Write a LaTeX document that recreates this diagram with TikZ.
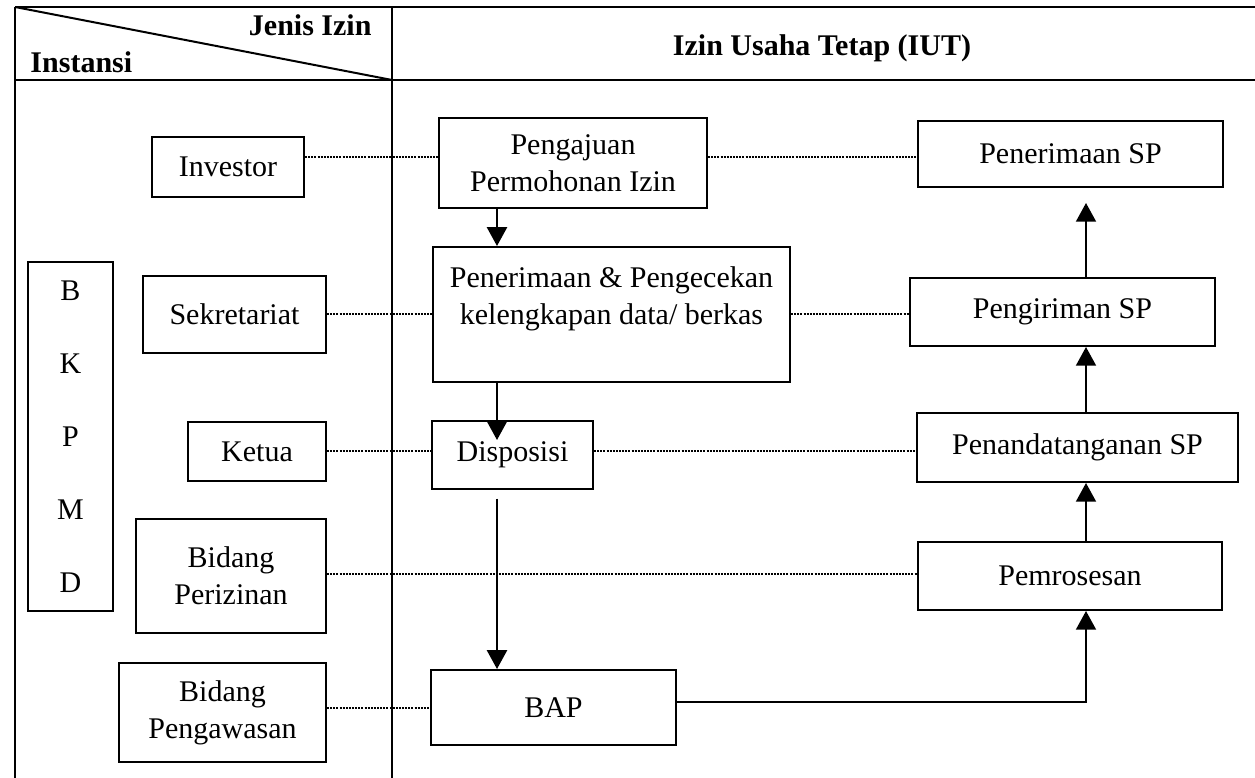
\documentclass[tikz,border=0pt]{standalone}
\usepackage{fontspec}
\setmainfont{Liberation Serif}
\usetikzlibrary{arrows.meta}
\newcommand\mybox[6]{\node[bx, minimum width={(#4-#2)*0.4pt}, minimum height={(#5-#3)*0.4pt}] (#1) at ({(#2+#4)/2},{(#3+#5)/2}) {#6};}
\begin{document}
\begin{tikzpicture}[x=0.4pt,y=-0.4pt,
 tbl/.style={line width=0.6pt},
 bx/.style={draw, line width=0.8pt, inner sep=0pt, align=center, font=\fontsize{12}{14.8}\selectfont},
 hdr/.style={inner sep=0pt, font=\bfseries\fontsize{12}{14.8}\selectfont},
 dotline/.style={line width=0.55pt, dash pattern=on 0.8pt off 0.45pt},
 arr/.style={line width=0.8pt, -{Triangle[width=8pt,length=7.5pt]}}]
\useasboundingbox (0,0) rectangle (1255,778);
% table frame
\draw[tbl] (15,7) -- (1255,7);
\draw[tbl] (15,80) -- (1255,80);
\draw[tbl] (15,7) -- (15,778);
\draw[tbl] (392,7) -- (392,778);
\draw[line width=0.8pt] (15,7) -- (392,80);
\node[hdr, anchor=base east] (jenis) at (372,36) {Jenis Izin};
\node[hdr, anchor=base west] (inst) at (30,73) {Instansi};
\node[hdr] (iut) at (822,48) {Izin Usaha Tetap (IUT)};
% left column
\node[bx, font=\fontsize{12}{29.2}\selectfont, minimum width=34pt, minimum height=139.6pt] (bkpmd) at (70.5,436.5) {B\\K\\P\\M\\D};
\mybox{inv}{152}{137}{304}{197}{Investor}
\mybox{sek}{143}{276}{326}{353}{Sekretariat}
\mybox{ketua}{188}{422}{326}{481}{Ketua}
\mybox{perizinan}{136}{519}{326}{633}{Bidang\\Perizinan}
\mybox{pengawasan}{119}{663}{326}{762}{Bidang\\Pengawasan}
% middle column
\mybox{pengajuan}{439}{118}{707}{208}{Pengajuan\\Permohonan Izin}
\mybox{penerimaan}{433}{247}{790}{382}{Penerimaan \& Pengecekan\\kelengkapan data/ berkas\\\mbox{}}
\mybox{disp}{432}{421}{593}{489}{Disposisi}
\mybox{bap}{431}{670}{676}{745}{BAP}
% right column
\mybox{psp}{918}{121}{1223}{187}{Penerimaan SP}
\mybox{pgr}{910}{278}{1215}{346}{Pengiriman SP}
\mybox{pttd}{917}{413}{1238}{482}{Penandatanganan SP}
\mybox{pemro}{918}{542}{1222}{610}{Pemrosesan}
% helper coordinates
\coordinate (colL) at (497,0);
\coordinate (colR) at (1086,0);
\coordinate (r1) at (0,157);
\coordinate (r2) at (0,314);
\coordinate (r3) at (0,451);
\coordinate (r4) at (0,574);
\coordinate (r5) at (0,708);
\coordinate (r6) at (0,702);
% dotted row connectors
\draw[dotline] (inv.east |- r1) -- (pengajuan.west |- r1);
\draw[dotline] (pengajuan.east |- r1) -- (psp.west |- r1);
\draw[dotline] (sek.east |- r2) -- (penerimaan.west |- r2);
\draw[dotline] (penerimaan.east |- r2) -- (pgr.west |- r2);
\draw[dotline] (ketua.east |- r3) -- (disp.west |- r3);
\draw[dotline] (disp.east |- r3) -- (pttd.west |- r3);
\draw[dotline] (perizinan.east |- r4) -- (pemro.west |- r4);
\draw[dotline] (pengawasan.east |- r5) -- (bap.west |- r5);
% flow arrows
\draw[arr] (pengajuan.south -| colL) -- (penerimaan.north -| colL);
\draw[arr, shorten >=-8pt] (penerimaan.south -| colL) -- (disp.north -| colL);
\draw[arr, shorten <=3.5pt] (disp.south -| colL) -- (bap.north -| colL);
\draw[arr] (bap.east |- r6) -- (colR |- r6) -- (pemro.south -| colR);
\draw[arr] (pemro.north -| colR) -- (pttd.south -| colR);
\draw[arr] (pttd.north -| colR) -- (pgr.south -| colR);
\draw[arr, shorten >=6pt] (pgr.north -| colR) -- (psp.south -| colR);
\end{tikzpicture}
\end{document}
